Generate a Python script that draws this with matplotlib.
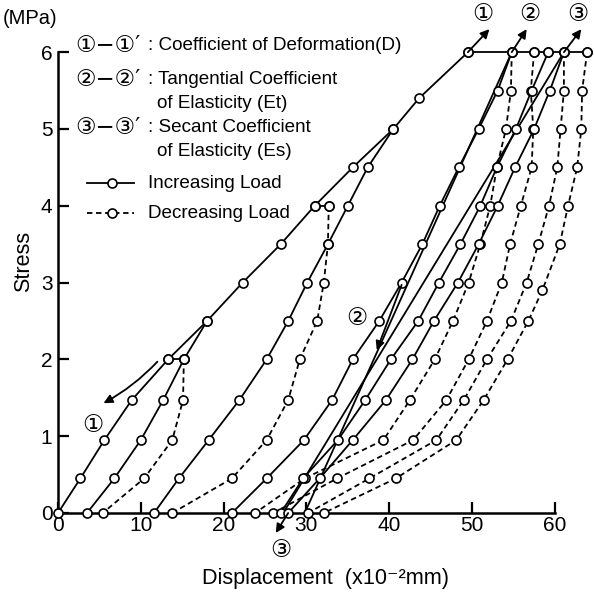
import matplotlib
matplotlib.use('Agg')
import matplotlib.pyplot as plt
from matplotlib import font_manager
from matplotlib.lines import Line2D

# ---------------- data ----------------
LOAD = [0, 0.45, 0.95, 1.47, 2.0, 2.5, 3.0, 3.5, 4.0, 4.5, 5.0, 5.5, 6.0]
LOAD_DOWN = LOAD[::-1]

virgin_x = [0, 2.7, 5.6, 8.9, 13.3, 18.0, 22.3, 26.9, 31.0, 35.6, 40.5, 43.6, 49.5]
virgin_y = [0, 0.45, 0.95, 1.47, 2.0, 2.5, 3.0, 3.5, 4.0, 4.5, 5.0, 5.4, 6.0]

creep2_x = [13.3, 15.2]
creep2_y = [2.0, 2.0]
creep4_x = [31.0, 32.7]
creep4_y = [4.0, 4.0]
creep6_x = [49.5, 54.8, 57.5, 59.2, 61.1, 63.9]
creep6_y = [6.0, 6.0, 6.0, 6.0, 6.0, 6.0]

unload1_x = [15.2, 15.1, 13.8, 10.4, 5.4]
unload1_y = [2.0, 1.47, 0.95, 0.45, 0]
reload1_x = [3.5, 6.8, 10.0, 12.7, 15.2, 18.0]
reload1_y = LOAD[:6]

unload2_x = [32.7, 32.6, 32.1, 31.3, 29.2, 27.8, 25.2, 21.0, 13.8]
unload2_y = [4.0, 3.5, 3.0, 2.5, 2.0, 1.47, 0.95, 0.45, 0]
reload2_x = [11.6, 14.6, 18.2, 21.9, 25.2, 27.8, 30.1, 32.6, 35.0, 37.4, 40.5]
reload2_y = LOAD[:11]

unload3_x = [54.8, 54.7, 54.1, 53.0, 52.2, 51.0, 49.6, 47.7, 45.5, 42.5, 39.3, 29.8, 23.8]
reload3_x = [21.0, 25.2, 29.7, 33.1, 35.6, 38.8, 41.5, 44.0, 46.1, 48.4, 50.8, 53.1, 54.8]
unload4_x = [57.5, 57.1, 57.4, 57.2, 55.9, 54.6, 53.6, 51.8, 49.6, 46.9, 42.9, 33.7, 26.0]
reload4_x = [26.9, 29.6, 33.8, 37.1, 40.2, 43.5, 46.0, 48.6, 51.0, 53.0, 55.3, 57.2, 59.2]
unload5_x = [61.1, 61.1, 60.7, 60.3, 59.3, 58.0, 56.6, 54.7, 51.8, 49.0, 45.7, 37.6, 30.2]
reload5_x = [27.8, 31.6, 35.6, 39.6, 42.8, 45.4, 48.3, 50.8, 53.1, 55.2, 57.5, 59.4, 61.1]
unload6_x = [63.9, 63.3, 63.2, 62.7, 61.6, 60.6, 58.5, 56.8, 54.3, 51.4, 48.1, 40.8, 32.1]
unload6_y = [6.0, 5.5, 5.0, 4.5, 4.0, 3.5, 2.9, 2.5, 2.0, 1.47, 0.95, 0.45, 0]

tangent_x = [29.8, 54.8]
tangent_y = [0, 6.0]
secant_x = [27.2, 61.1]
secant_y = [0, 6.0]

x_ticks = [0, 10, 20, 30, 40, 50, 60]
y_ticks = [0, 1, 2, 3, 4, 5, 6]

# ---------------- fonts ----------------
names = {f.name for f in font_manager.fontManager.ttflist}
NARROW = 'Liberation Sans Narrow' in names
TXT_FAM = (['Liberation Sans Narrow'] if NARROW else ['Liberation Sans']) + ['DejaVu Sans', 'Noto Sans CJK JP']
TXT_SIZE = 15 if NARROW else 13.6
NUM_FAM = ['Liberation Sans', 'DejaVu Sans']
CIRC_FAM = ['DejaVu Sans', 'Noto Sans CJK JP']

W, H = 594, 599
fig = plt.figure(figsize=(W / 100, H / 100), dpi=100)
XMAX, YMAX = 64.7, 6.55
ax = fig.add_axes([58 / W, 1 - 513 / H, XMAX * 8.28 / W, YMAX * 76.8 / H])
ax.set_xlim(0, XMAX)
ax.set_ylim(0, YMAX)

LW = 1.3


def curve(x, y, dashed=False, markers=True):
    ax.plot(x, y, color='k', lw=LW, ls=(0, (3, 2)) if dashed else '-',
            zorder=2, clip_on=False, solid_capstyle='butt')
    if markers:
        ax.plot(x, y, ls='none', marker='o', ms=6.5, mfc='white', mec='k',
                mew=1.2, zorder=3, clip_on=False)


curve(virgin_x, virgin_y)
curve(creep2_x, creep2_y)
curve(creep4_x, creep4_y)
curve(creep6_x, creep6_y)
curve(unload1_x, unload1_y, dashed=True)
curve(reload1_x, reload1_y)
curve(unload2_x, unload2_y, dashed=True)
curve(reload2_x, reload2_y)
curve(unload3_x, LOAD_DOWN, dashed=True)
curve(reload3_x, LOAD)
curve(unload4_x, LOAD_DOWN, dashed=True)
curve(reload4_x, LOAD)
curve(unload5_x, LOAD_DOWN, dashed=True)
curve(reload5_x, LOAD)
curve(unload6_x, unload6_y, dashed=True)
curve(tangent_x, tangent_y, markers=False)
curve(secant_x, secant_y, markers=False)

# ---------------- axes styling ----------------
for s in ['top', 'right']:
    ax.spines[s].set_visible(False)
ax.spines['left'].set_bounds(0, 6)
ax.spines['bottom'].set_bounds(0, 60)
for s in ['left', 'bottom']:
    ax.spines[s].set_linewidth(1.8)
ax.set_xticks(x_ticks)
ax.set_yticks(y_ticks)
ax.tick_params(direction='in', length=8, width=1.6, labelsize=15)
ax.tick_params(axis='x', pad=2)
ax.tick_params(axis='y', pad=4)
for lab in ax.get_xticklabels() + ax.get_yticklabels():
    lab.set_family(NUM_FAM)

ax.set_xlabel('Displacement  (x10⁻²mm)', family=TXT_FAM, fontsize=TXT_SIZE + 2, labelpad=24)
ax.set_ylabel('Stress', family=TXT_FAM, fontsize=TXT_SIZE + 2, labelpad=5)

# ---------------- annotations ----------------
AP = dict(arrowstyle='-|>', mutation_scale=13, lw=1.3, color='k', shrinkA=0, shrinkB=0)


def arrow(x0, y0, x1, y1, rad=0.0):
    ax.annotate('', xy=(x1, y1), xytext=(x0, y0), annotation_clip=False,
                arrowprops=dict(AP, connectionstyle=f'arc3,rad={rad}'))


def circ(x, y, s, size=17):
    ax.text(x, y, s, family=CIRC_FAM, fontsize=size, ha='center', va='center', clip_on=False)


arrow(49.5, 6.0, 52.1, 6.30)
arrow(54.8, 6.0, 56.6, 6.30)
arrow(61.1, 6.0, 63.2, 6.30)
circ(51.3, 6.5, '①')
circ(57.0, 6.5, '②')
circ(62.8, 6.5, '③')

arrow(12.0, 1.97, 5.5, 1.43, rad=-0.08)
circ(4.2, 1.15, '①')
arrow(41.5, 2.97, 38.5, 2.12)
circ(36.1, 2.54, '②')
arrow(27.8, 0.0, 26.3, -0.26)
circ(26.9, -0.48, '③')

# (MPa)
fig.text(3 / W, 1 - 19 / H, '(MPa)', family=NUM_FAM, fontsize=14.5, ha='left', va='center')

# ---------------- legend block ----------------
def ftxt(px, py, s, fam, size, ha='left'):
    fig.text(px / W, 1 - py / H, s, family=fam, fontsize=size, ha=ha, va='center')


rows = [(45, '①−①′', ': Coefficient of Deformation(D)'),
        (80, '②−②′', ': Tangential Coefficient'),
        (127, '③−③′', ': Secant Coefficient')]
for py, sym, txt in rows:
    ftxt(75, py, sym, CIRC_FAM, 16.5)
    ftxt(148, py, txt, TXT_FAM, TXT_SIZE)
ftxt(157, 103, 'of Elasticity (Et)', TXT_FAM, TXT_SIZE)
ftxt(157, 152, 'of Elasticity (Es)', TXT_FAM, TXT_SIZE)

for py, dashed, txt in [(183, False, 'Increasing Load'), (213, True, 'Decreasing Load')]:
    fy = 1 - py / H
    fig.add_artist(Line2D([87 / W, 134 / W], [fy, fy], color='k', lw=LW,
                          ls=(0, (3, 2)) if dashed else '-', transform=fig.transFigure))
    fig.add_artist(Line2D([112 / W], [fy], ls='none', marker='o', ms=6.5, mfc='white',
                          mec='k', mew=1.2, transform=fig.transFigure))
    ftxt(148, py, txt, TXT_FAM, TXT_SIZE)

fig.savefig('out.png', dpi=100)
